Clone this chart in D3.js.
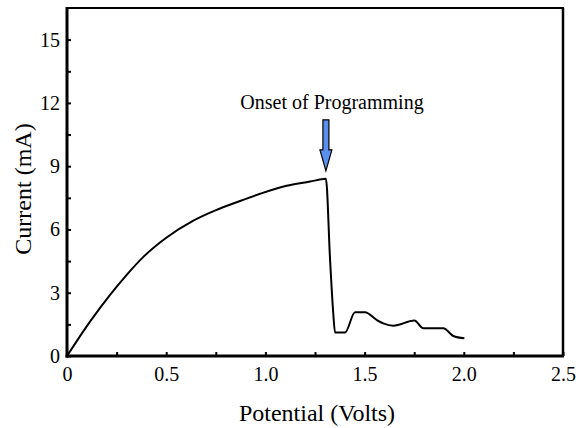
<!DOCTYPE html>
<html>
<head>
<meta charset="utf-8">
<script src="https://cdn.jsdelivr.net/npm/d3@7"></script>
<style>
  body { margin: 0; background: #fff; }
  svg { display: block; }
  text { font-family: "Liberation Serif", "Times New Roman", serif; fill: #000; }
</style>
</head>
<body>
<div id="chart"></div>
<script>
// values
var potential = [0, 0.116, 0.217, 0.301, 0.385, 0.502, 0.637, 0.754, 0.855, 0.973, 1.107, 1.225, 1.292, 1.305,
                 1.326, 1.342, 1.351, 1.401, 1.452, 1.502, 1.561, 1.594, 1.645, 1.751, 1.796, 1.897, 1.947, 2.003]
var current   = [0, 1.63, 2.9, 3.85, 4.7, 5.62, 6.42, 6.93, 7.29, 7.69, 8.07, 8.27, 8.39, 8.40,
                 4.56, 2.03, 1.11, 1.11, 2.07, 2.07, 1.71, 1.55, 1.44, 1.68, 1.31, 1.31, 0.95, 0.84]
var xTicks = [0, 0.5, 1.0, 1.5, 2.0, 2.5]
var xLabels = ["0", "0.5", "1.0", "1.5", "2.0", "2.5"]
var xMinor = [0.25, 0.75, 1.25, 1.75, 2.25]
var yTicks = [0, 3, 6, 9, 12, 15]
var yMinor = [1.5, 4.5, 7.5, 10.5, 13.5]
var onset = {x: 1.305, y: 8.4, label: "Onset of Programming"}

var W = 576, H = 428
// note: 'top' is window.top, so keep plot edges in their own names
var pl = 67, pr = 563, pt = 8, pb = 356

var svg = d3.select('#chart').append('svg')
    .attr('width', W)
    .attr('height', H)

var x = d3.scaleLinear().domain([0, 2.5]).range([pl, pr])
var y = d3.scaleLinear().domain([0, 16.5]).range([pb, pt])

// minor ticks (inward, no labels)
svg.append('g')
    .attr('transform', 'translate(0,' + pb + ')')
    .call(d3.axisBottom(x).tickValues(xMinor).tickSize(-4).tickFormat(''))
svg.append('g')
    .attr('transform', 'translate(' + pl + ',0)')
    .call(d3.axisLeft(y).tickValues(yMinor).tickSize(-4).tickFormat(''))

// major ticks
svg.append('g')
    .attr('class', 'xaxis')
    .attr('transform', 'translate(0,' + pb + ')')
    .call(d3.axisBottom(x).tickValues(xTicks).tickSize(-4).tickPadding(11)
          .tickFormat(function(d, i){ return xLabels[i] }))
svg.append('g')
    .attr('class', 'yaxis')
    .attr('transform', 'translate(' + pl + ',0)')
    .call(d3.axisLeft(y).tickValues(yTicks).tickSize(-4).tickPadding(7))

svg.selectAll('.domain').remove()
svg.selectAll('.tick line').attr('stroke', '#000').attr('stroke-width', 2)
svg.selectAll('.tick text')
    .style('font-family', '"Liberation Serif", "Times New Roman", serif')
    .style('font-size', '20px')
    .attr('fill', '#000')

// frame: heavy left / bottom, lighter top / right
svg.append('line').attr('x1', pl).attr('x2', pl).attr('y1', pt - 1).attr('y2', pb + 1.5)
    .attr('stroke', '#000').attr('stroke-width', 3)
svg.append('line').attr('x1', pl - 1.5).attr('x2', pr + 1).attr('y1', pb).attr('y2', pb)
    .attr('stroke', '#000').attr('stroke-width', 3)
svg.append('line').attr('x1', pl).attr('x2', pr + 1).attr('y1', pt).attr('y2', pt)
    .attr('stroke', '#000').attr('stroke-width', 2)
svg.append('line').attr('x1', pr).attr('x2', pr).attr('y1', pt).attr('y2', pb)
    .attr('stroke', '#000').attr('stroke-width', 2.5)

// the I-V trace
var pts = potential.map(function(p, i){ return [p, current[i]] })
var line = d3.line()
    .x(function(d){ return x(d[0]) })
    .y(function(d){ return y(d[1]) })
    .curve(d3.curveMonotoneX)
svg.append('path')
    .datum(pts)
    .attr('d', line)
    .attr('fill', 'none')
    .attr('stroke', '#000')
    .attr('stroke-width', 2)
    .attr('stroke-linejoin', 'round')

// annotation arrow
var ax = x(onset.x), tipY = y(onset.y) - 8
var arrow = d3.path()
arrow.moveTo(ax - 3, tipY - 51)
arrow.lineTo(ax + 3, tipY - 51)
arrow.lineTo(ax + 3, tipY - 21)
arrow.lineTo(ax + 6, tipY - 21)
arrow.lineTo(ax, tipY)
arrow.lineTo(ax - 6, tipY - 21)
arrow.lineTo(ax - 3, tipY - 21)
arrow.closePath()
svg.append('path')
    .attr('d', arrow.toString())
    .attr('fill', '#5a8ff0')
    .attr('stroke', '#000')
    .attr('stroke-width', 1.2)

svg.append('text')
    .attr('x', 332)
    .attr('y', 109)
    .attr('text-anchor', 'middle')
    .style('font-size', '20px')
    .text(onset.label)

// axis titles
svg.append('text')
    .attr('x', 317)
    .attr('y', 421)
    .attr('text-anchor', 'middle')
    .style('font-size', '24px')
    .text('Potential (Volts)')
svg.append('text')
    .attr('transform', 'translate(31,189) rotate(-90)')
    .attr('text-anchor', 'middle')
    .style('font-size', '24px')
    .text('Current (mA)')
</script>
</body>
</html>
